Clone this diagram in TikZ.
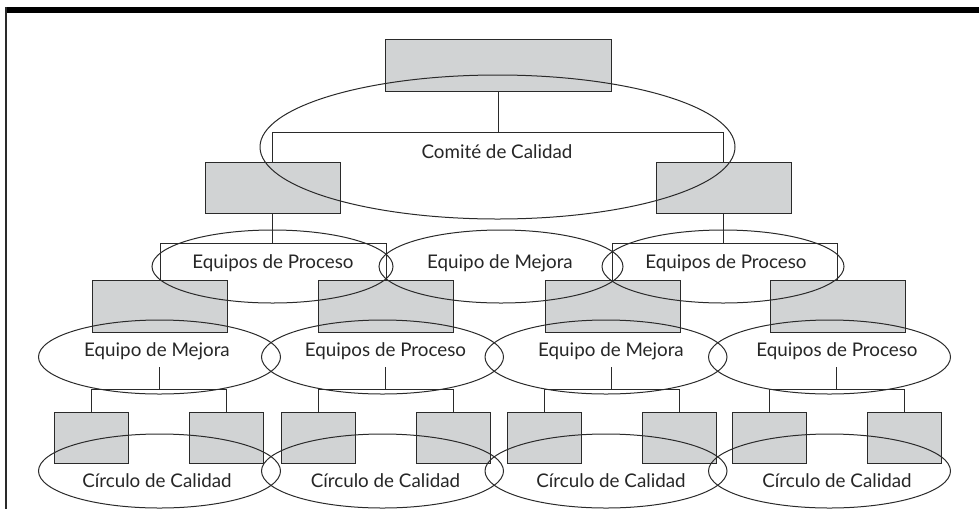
\documentclass[tikz,border=0pt]{standalone}
\usepackage{fontspec}
\setmainfont{Lato}
\usetikzlibrary{shapes.geometric, positioning}
\definecolor{gris}{HTML}{D1D3D4}
\definecolor{trazo}{HTML}{2A2A2A}

\begin{document}
\begin{tikzpicture}[x=1pt, y=-1pt, line width=1pt, color=trazo,
  caja/.style={draw=trazo, fill=gris, inner sep=0pt, minimum height=51pt},
  cajag/.style={caja, minimum width=135pt},
  cajac/.style={caja, minimum width=74pt},
  ovalo/.style={draw=trazo, ellipse, inner sep=0pt, minimum width=242pt, minimum height=74pt},
  rotulo/.style={anchor=base, inner sep=0pt, font=\fontsize{18.8}{20}\selectfont, text=black!85}]
  \useasboundingbox (0,0) rectangle (979,509);
  % marco
  \fill[black] (6,7) rectangle (979,13);
  \draw[line width=1.5pt] (6,7) -- (6,509);
  % cajas
  \node[caja, minimum width=226pt, minimum height=52pt] (cima) at (498,65) {};
  \node[cajag] (pizq) at (272.5,187.5) {};
  \node[cajag] (pder) at (723.5,187.5) {};
  \foreach \x [count=\i] in {160,386,612.5,837.5}
    \node[cajag, minimum height=52pt] (e\i) at (\x,306) {};
  \foreach \v [count=\i] in {159,385.5,611.5,836.5} {
    \node[cajac] (c\i-1) at (\v-67.5,437.5) {};
    \node[cajac] (c\i-2) at (\v+67.5,437.5) {};
  }
  % conectores
  \draw (cima.south) -- ++(0,41) -| (pizq.north);
  \draw (cima.south) -- ++(0,41) -| (pder.north);
  \draw (pizq.south) -- ++(0,30) -| (e1.north);
  \draw (pizq.south) -- ++(0,30) -| (e2.north);
  \draw (pder.south) -- ++(0,30) -| (e3.north);
  \draw (pder.south) -- ++(0,30) -| (e4.north);
  \foreach \v [count=\i] in {159,385.5,611.5,836.5} {
    \coordinate (h\i) at (\v,367);
    \draw (h\i) -- ++(0,22) -| (c\i-1.north);
    \draw (h\i) -- ++(0,22) -| (c\i-2.north);
  }
  % ovalos
  \node[ovalo, minimum width=475pt, minimum height=144pt] (comite) at (497.5,147) {};
  \node[ovalo, minimum width=241pt, minimum height=73pt] (pro1) at (272.5,266.5) {};
  \node[ovalo, minimum width=244pt, minimum height=73pt] (mej0) at (501,266.5) {};
  \node[ovalo, minimum width=242pt, minimum height=73pt] (pro2) at (723,266.5) {};
  \foreach \e [count=\i] in {159.5,382.5,606,829.5} {
    \node[ovalo] (eq\i) at (\e,357) {};
    \node[ovalo] (ci\i) at (\e,471) {};
  }
  % textos
  \node[rotulo] (tcomite) at (497,158) {Comité de Calidad};
  \node[rotulo] (tpro1) at (273,268) {Equipos de Proceso};
  \node[rotulo] (tmej0) at (500,268) {Equipo de Mejora};
  \node[rotulo] (tpro2) at (726,268) {Equipos de Proceso};
  \foreach \t/\txt [count=\i] in {157/Equipo de Mejora, 385.5/Equipos de Proceso,
      611/Equipo de Mejora, 837/Equipos de Proceso} {
    \node[rotulo] (teq\i) at (\t,356) {\txt};
    \node[rotulo] (tci\i) at (\t,487) {Círculo de Calidad};
  }
\end{tikzpicture}
\end{document}
